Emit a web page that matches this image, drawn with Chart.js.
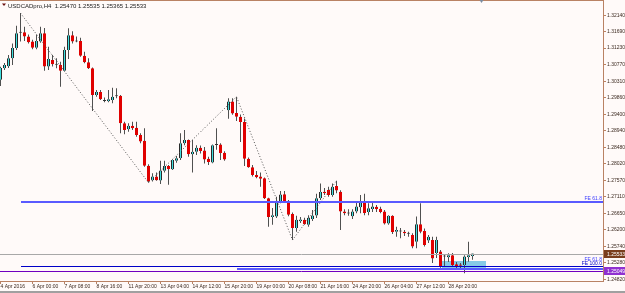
<!DOCTYPE html>
<html lang="en">
<head>
<meta charset="utf-8">
<title>USDCADpro,H4</title>
<style>
  html, body { margin: 0; padding: 0; background: #fffaf9; }
  canvas { display: block; }
</style>
</head>
<body>
<canvas id="chart" width="625" height="293"></canvas>
<script src="https://cdn.jsdelivr.net/npm/chart.js@4.4.1/dist/chart.umd.min.js"></script>
<script>
// H4 candles, bar 0 = 4 Apr 2016 16:00 (broker time), one bar every 4 hours
const symbol = 'USDCADpro,H4';

const open = [
  1.3035, 1.3067, 1.3073, 1.3095, 1.3123, 1.3167, 1.3167, 1.3155, 1.3141, 1.3124,
  1.3141, 1.3164, 1.3072, 1.3090, 1.3078, 1.3076, 1.3060, 1.3118, 1.3159, 1.3143,
  1.3143, 1.3102, 1.3084, 1.3067, 1.2993, 1.3001, 1.2978, 1.2976, 1.2979, 1.2991,
  1.2991, 1.2915, 1.2898, 1.2908, 1.2902, 1.2882, 1.2866, 1.2797, 1.2757, 1.2767,
  1.2756, 1.2783, 1.2796, 1.2787, 1.2811, 1.2818, 1.2859, 1.2868, 1.2829, 1.2836,
  1.2847, 1.2839, 1.2816, 1.2806, 1.2856, 1.2856, 1.2833, 1.2951, 1.2975, 1.2943,
  1.2933, 1.2918, 1.2816, 1.2793, 1.2771, 1.2767, 1.2762, 1.2707, 1.2655, 1.2656,
  1.2697, 1.2718, 1.2699, 1.2663, 1.2624, 1.2643, 1.2647, 1.2633, 1.2649, 1.2659,
  1.2707, 1.2725, 1.2730, 1.2716, 1.2741, 1.2725, 1.2670, 1.2666, 1.2657, 1.2670,
  1.2682, 1.2694, 1.2669, 1.2677, 1.2683, 1.2678, 1.2670, 1.2637, 1.2658, 1.2614,
  1.2616, 1.2614, 1.2610, 1.2605, 1.2586, 1.2635, 1.2616, 1.2590, 1.2591, 1.2555,
  1.2559, 1.2547, 1.2543, 1.2549, 1.2524, 1.2523, 1.2522, 1.2544, 1.25470
];
const high = [
  1.3071, 1.3082, 1.3104, 1.3136, 1.3185, 1.3220, 1.3182, 1.3161, 1.3146, 1.3161,
  1.3182, 1.3179, 1.3127, 1.3104, 1.3095, 1.3085, 1.3127, 1.3178, 1.3170, 1.3155,
  1.3152, 1.3113, 1.3095, 1.3069, 1.3007, 1.3007, 1.2986, 1.3007, 1.3013, 1.3012,
  1.2993, 1.2919, 1.2915, 1.2919, 1.2919, 1.2887, 1.2901, 1.2801, 1.2776, 1.2778,
  1.2811, 1.2811, 1.2799, 1.2815, 1.2824, 1.2887, 1.2896, 1.2870, 1.2868, 1.2854,
  1.2853, 1.2849, 1.2822, 1.2856, 1.2901, 1.2859, 1.2837, 1.2984, 1.2984, 1.2988,
  1.2939, 1.2928, 1.2820, 1.2799, 1.2782, 1.2778, 1.2764, 1.2708, 1.2680, 1.2711,
  1.2727, 1.2727, 1.2702, 1.2667, 1.2658, 1.2655, 1.2653, 1.2660, 1.2674, 1.2719,
  1.2748, 1.2735, 1.2739, 1.2748, 1.2755, 1.2729, 1.2676, 1.2676, 1.2676, 1.2694,
  1.2716, 1.2719, 1.2693, 1.2694, 1.2688, 1.2683, 1.2674, 1.2660, 1.2660, 1.2628,
  1.2624, 1.2619, 1.2614, 1.2610, 1.2656, 1.2693, 1.2623, 1.2605, 1.2600, 1.2600,
  1.2563, 1.2552, 1.2554, 1.2555, 1.2530, 1.2527, 1.2549, 1.2586, 1.25535
];
const low = [
  1.3018, 1.3062, 1.3068, 1.3076, 1.3118, 1.3141, 1.3143, 1.3136, 1.3120, 1.3120,
  1.3138, 1.3060, 1.3062, 1.3072, 1.3067, 1.3016, 1.3058, 1.3093, 1.3136, 1.3139,
  1.3099, 1.3081, 1.3065, 1.2949, 1.2988, 1.2979, 1.2973, 1.2973, 1.2970, 1.2984,
  1.2887, 1.2884, 1.2891, 1.2896, 1.2877, 1.2859, 1.2794, 1.2750, 1.2753, 1.2755,
  1.2746, 1.2778, 1.2744, 1.2785, 1.2805, 1.2813, 1.2854, 1.2822, 1.2778, 1.2827,
  1.2831, 1.2803, 1.2799, 1.2804, 1.2841, 1.2813, 1.2811, 1.2927, 1.2938, 1.2921,
  1.2863, 1.2796, 1.2791, 1.2767, 1.2762, 1.2739, 1.2705, 1.2628, 1.2633, 1.2652,
  1.2693, 1.2695, 1.2657, 1.2591, 1.2614, 1.2638, 1.2633, 1.2628, 1.2644, 1.2652,
  1.2702, 1.2716, 1.2711, 1.2711, 1.2721, 1.2619, 1.2660, 1.2658, 1.2649, 1.2665,
  1.2665, 1.2660, 1.2660, 1.2669, 1.2669, 1.2665, 1.2634, 1.2633, 1.2608, 1.2600,
  1.2596, 1.2602, 1.2600, 1.2568, 1.2568, 1.2610, 1.2573, 1.2583, 1.2527, 1.2541,
  1.2514, 1.2517, 1.2530, 1.2517, 1.2513, 1.2508, 1.2499, 1.2531, 1.25365
];
const close = [
  1.3068, 1.3076, 1.3095, 1.3123, 1.3164, 1.3167, 1.3155, 1.3139, 1.3124, 1.3143,
  1.3164, 1.3072, 1.3093, 1.3078, 1.3078, 1.3060, 1.3118, 1.3159, 1.3141, 1.3143,
  1.3102, 1.3084, 1.3067, 1.2993, 1.3001, 1.2981, 1.2978, 1.2981, 1.2988, 1.2991,
  1.2915, 1.2896, 1.2908, 1.2901, 1.2882, 1.2864, 1.2797, 1.2753, 1.2767, 1.2757,
  1.2784, 1.2796, 1.2787, 1.2813, 1.2818, 1.2859, 1.2868, 1.2829, 1.2836, 1.2847,
  1.2838, 1.2814, 1.2807, 1.2854, 1.2856, 1.2832, 1.2814, 1.2975, 1.2942, 1.2933,
  1.2918, 1.2816, 1.2793, 1.2771, 1.2765, 1.2761, 1.2707, 1.2655, 1.2660, 1.2696,
  1.2717, 1.2699, 1.2661, 1.2624, 1.2647, 1.2648, 1.2635, 1.2653, 1.2659, 1.2707,
  1.2724, 1.2721, 1.2716, 1.2739, 1.2728, 1.2670, 1.2665, 1.2666, 1.2670, 1.2684,
  1.2694, 1.2666, 1.2679, 1.2684, 1.2676, 1.2669, 1.2637, 1.2658, 1.2613, 1.2619,
  1.2616, 1.2610, 1.2610, 1.2573, 1.2635, 1.2614, 1.2577, 1.2600, 1.2540, 1.2591,
  1.2519, 1.2547, 1.2549, 1.2521, 1.2519, 1.2520, 1.2545, 1.2549, 1.25533
];

// one time label every 8 bars
const xTickLabels = [
  '4 Apr 2016', '6 Apr 00:00', '7 Apr 08:00', '8 Apr 16:00', '11 Apr 20:00',
  '13 Apr 04:00', '14 Apr 12:00', '15 Apr 20:00', '19 Apr 00:00', '20 Apr 08:00',
  '21 Apr 16:00', '24 Apr 20:00', '26 Apr 04:00', '27 Apr 12:00', '28 Apr 20:00'
];
const yTickValues = [
  1.32140, 1.31690, 1.31230, 1.30770, 1.30310, 1.29860, 1.29400, 1.28940, 1.28480,
  1.28020, 1.27570, 1.27110, 1.26650, 1.26200, 1.25740, 1.25280, 1.24820
];

// zigzag swing points (bar index, high/low alternating)
const zigzagBars = [5, 37, 59, 73, 84];

// fibo expansion levels
const feLevels = [1.26977, 1.25190, 1.25112];
const feFromBar = [5, 5, 59];
const feNames = ['FE 61.8', 'FE 100.0', 'FE 61.8'];

const bidPrice = 1.25533;
const hLinePrice = 1.25049;
const zoneBars = [110.25, 121.25];
const zonePrices = [1.25330, 1.25070];

// ---------------------------------------------------------------
const AXIS = '#b98264';
const TEXT = '#3c2a20';
const FONT = '"Liberation Sans", Arial, sans-serif';

const bodyData = open.map((o, i) => {
  const c = close[i];
  return { x: i, y: o === c ? [o - 0.00014, o + 0.00014] : [o, c] };
});
const bodyColor = open.map((o, i) => close[i] > o ? '#3fe0e0' : (close[i] < o ? '#e00000' : '#333333'));
const bodyBorder = open.map((o, i) => close[i] > o ? '#2a2a2a' : (close[i] < o ? '#e00000' : '#333333'));
const wickData = low.map((l, i) => ({ x: i, y: [l, high[i]] }));
const zigzag = zigzagBars.map((b, i) => ({ x: b, y: i % 2 ? low[b] : high[b] }));

function hline(ctx, y, x0, x1, color, w) {
  const yy = w % 2 ? Math.round(y) + 0.5 : Math.round(y);
  ctx.strokeStyle = color;
  ctx.lineWidth = w;
  ctx.beginPath();
  ctx.moveTo(x0, yy);
  ctx.lineTo(x1, yy);
  ctx.stroke();
}

function priceBox(ctx, x, y, text, fill) {
  ctx.fillStyle = fill;
  ctx.fillRect(x, Math.round(y) - 4, 625 - x, 8);
  ctx.fillStyle = '#ffffff';
  ctx.textAlign = 'left';
  ctx.textBaseline = 'middle';
  ctx.fillText(text, x + 3, Math.round(y) + 0.5);
}

const mt4Overlay = {
  id: 'mt4Overlay',
  beforeDraw(chart) {
    const ctx = chart.ctx;
    ctx.save();
    ctx.fillStyle = '#fffaf9';
    ctx.fillRect(0, 0, chart.width, chart.height);
    ctx.restore();
  },
  beforeDatasetsDraw(chart) {
    const ctx = chart.ctx, xs = chart.scales.x, ys = chart.scales.y;
    const x0 = xs.getPixelForValue(zoneBars[0]), x1 = xs.getPixelForValue(zoneBars[1]);
    const y0 = ys.getPixelForValue(zonePrices[0]), y1 = ys.getPixelForValue(zonePrices[1]);
    ctx.save();
    ctx.fillStyle = '#86cbe6';
    ctx.fillRect(Math.round(x0), Math.round(y0), Math.round(x1 - x0), Math.round(y1 - y0));
    ctx.restore();
  },
  afterDatasetsDraw(chart) {
    const ctx = chart.ctx, a = chart.chartArea, xs = chart.scales.x, ys = chart.scales.y;
    ctx.save();
    ctx.font = '5px ' + FONT;

    // levels
    const feColor = ['#5a5aff', '#0000c8', '#5a5aff'];
    const feWidth = [2, 1, 2];
    hline(ctx, ys.getPixelForValue(bidPrice), a.left, a.right, '#a8a8a8', 1);
    feLevels.forEach((v, i) => {
      hline(ctx, ys.getPixelForValue(v), Math.round(xs.getPixelForValue(feFromBar[i])), a.right, feColor[i], feWidth[i]);
    });
    hline(ctx, ys.getPixelForValue(hLinePrice), a.left, a.right, '#7000c0', 1);

    // level names at the right end
    ctx.textAlign = 'right';
    ctx.textBaseline = 'alphabetic';
    ctx.fillStyle = '#3c3cff';
    ctx.fillText(feNames[0], a.right - 1, ys.getPixelForValue(feLevels[0]) - 2);
    ctx.fillStyle = '#0000c8';
    ctx.fillText(feNames[1], a.right - 1, ys.getPixelForValue(feLevels[1]) - 1);
    ctx.fillStyle = '#3c3cff';
    ctx.fillText(feNames[2], a.right - 1, ys.getPixelForValue(feLevels[1]) - 5);

    // price boxes on the axis
    priceBox(ctx, a.right + 1, ys.getPixelForValue(bidPrice), bidPrice.toFixed(5), '#7a3e1e');
    priceBox(ctx, a.right + 1, ys.getPixelForValue(hLinePrice), hLinePrice.toFixed(5), '#9030d0');

    // frame top line and shift marker
    hline(ctx, 0, 0, a.right + 1, AXIS, 1);
    ctx.fillStyle = '#7c8ca0';
    const sx = Math.round(xs.getPixelForValue(120)) + 0.5;
    ctx.beginPath();
    ctx.moveTo(sx - 2, 0); ctx.lineTo(sx + 2, 0); ctx.lineTo(sx, 3); ctx.closePath();
    ctx.fill();

    // header
    const last = close.length - 1;
    ctx.fillStyle = '#6a1010';
    ctx.beginPath();
    ctx.moveTo(2, 3.5); ctx.lineTo(6, 3.5); ctx.lineTo(4, 6); ctx.closePath();
    ctx.fill();
    ctx.fillStyle = '#202020';
    ctx.textAlign = 'left';
    ctx.textBaseline = 'alphabetic';
    ctx.font = '6px ' + FONT;
    ctx.fillText(symbol + '  ' + [open[last], high[last], low[last], close[last]].map(v => v.toFixed(5)).join(' '), 8, 7.5);

    // bottom window edge
    ctx.fillStyle = '#a0a0a0';
    ctx.fillRect(0, 291, chart.width, 2);
    ctx.restore();
  }
};

new Chart(document.getElementById('chart'), {
  type: 'bar',
  data: {
    datasets: [
      {
        label: 'body',
        data: bodyData,
        backgroundColor: bodyColor,
        borderColor: bodyBorder,
        borderWidth: { left: 1, right: 1, top: 0, bottom: 0 },
        borderSkipped: false,
        barThickness: 3,
        grouped: false,
        inflateAmount: 0,
        order: 1
      },
      {
        label: 'wick',
        data: wickData,
        backgroundColor: '#505050',
        borderWidth: 0,
        barThickness: 1,
        grouped: false,
        inflateAmount: 0,
        order: 2
      },
      {
        type: 'line',
        label: 'zigzag',
        data: zigzag,
        borderColor: '#555555',
        borderWidth: 1,
        borderDash: [1, 2],
        pointRadius: 0,
        tension: 0,
        order: 0
      }
    ]
  },
  options: {
    responsive: false,
    animation: false,
    devicePixelRatio: 1,
    layout: { padding: { top: 1, left: 0, right: 0, bottom: 0 } },
    plugins: { legend: { display: false }, tooltip: { enabled: false } },
    scales: {
      x: {
        type: 'linear',
        min: -0.125,
        max: 150.625,
        offset: false,
        afterBuildTicks: s => { s.ticks = xTickLabels.map((_, i) => ({ value: i * 8 })); },
        afterFit: s => { s.height = 12; s.paddingLeft = 0; s.paddingRight = 0; },
        grid: { drawOnChartArea: false, offset: false, tickLength: 3, color: AXIS },
        border: { display: true, color: AXIS },
        ticks: {
          align: 'start', autoSkip: false, maxRotation: 0, padding: 0,
          color: TEXT, font: { family: FONT, size: 5 },
          callback: v => xTickLabels[Math.round(v / 8)]
        }
      },
      y: {
        type: 'linear',
        position: 'right',
        min: 1.24774,
        max: 1.32536,
        afterBuildTicks: s => { s.ticks = yTickValues.map(v => ({ value: v })); },
        afterFit: s => { s.width = 22; s.paddingTop = 0; s.paddingBottom = 0; },
        grid: { drawOnChartArea: false, tickLength: 3, color: AXIS },
        border: { display: true, color: AXIS },
        ticks: {
          autoSkip: false, padding: 1,
          color: TEXT, font: { family: FONT, size: 5 },
          callback: v => v.toFixed(5)
        }
      }
    }
  },
  plugins: [mt4Overlay]
});
</script>
</body>
</html>
